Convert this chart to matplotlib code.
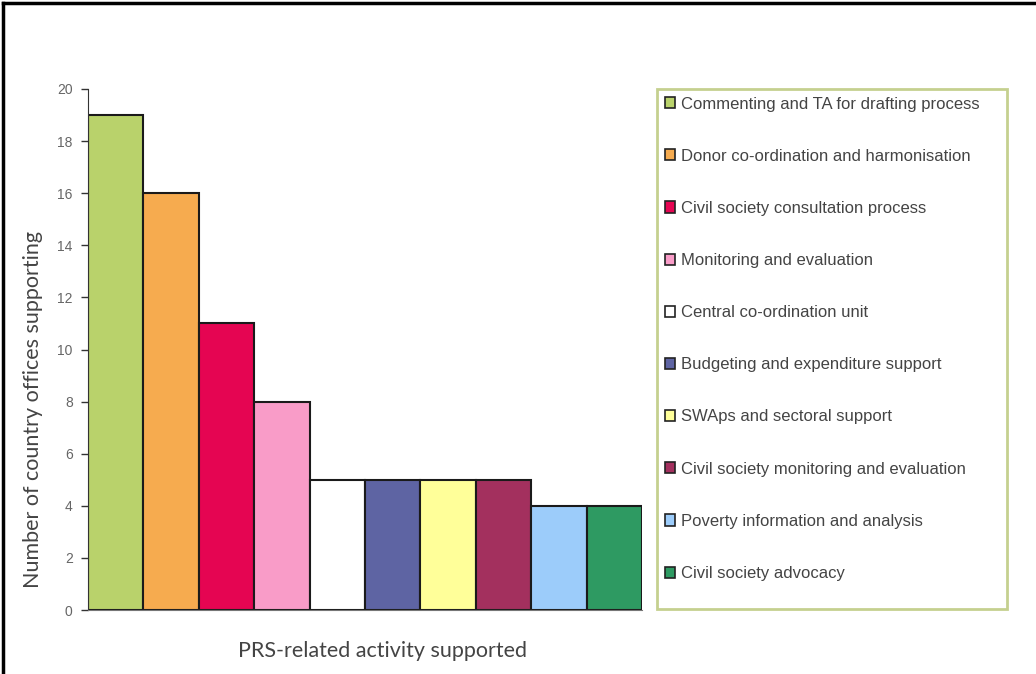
import matplotlib
matplotlib.use('Agg')
import matplotlib.pyplot as plt
from matplotlib.lines import Line2D
from matplotlib.patches import Rectangle

# activities and number of country offices supporting each
activities = ['Commenting and TA for drafting process',
              'Donor co-ordination and harmonisation',
              'Civil society consultation process',
              'Monitoring and evaluation',
              'Central co-ordination unit',
              'Budgeting and expenditure support',
              'SWAps and sectoral support',
              'Civil society monitoring and evaluation',
              'Poverty information and analysis',
              'Civil society advocacy']
offices = [19, 16, 11, 8, 5, 5, 5, 5, 4, 4]
colors = ['#b9d26b', '#f6ab4f', '#e50552', '#f99cc8', '#ffffff',
          '#5e64a3', '#ffff99', '#a3305e', '#9cccfa', '#2e9a62']
yticks = list(range(0, 21, 2))

W, H = 1036, 674
fig = plt.figure(figsize=(W/100, H/100), dpi=100)
ax = fig.add_axes([88/W, 1-610/H, (642-88)/W, (610-89)/H])

for i in range(len(offices)):
    ax.bar(i, offices[i], width=1.0, color=colors[i], edgecolor='#1a1a1a',
           linewidth=1.5, label=activities[i])

ax.set_xlim(-0.5, len(offices)-0.5)
ax.set_ylim(0, 20)
ax.set_yticks(yticks)
ax.set_xticks([])
ax.tick_params(axis='y', direction='out', length=5, width=1, color='#333333',
               labelsize=10, labelcolor='#666666', pad=6)
for lab in ax.get_yticklabels():
    lab.set_family('Liberation Sans')
for s in ['top', 'right']:
    ax.spines[s].set_visible(False)
ax.spines['left'].set_color('#333333')
ax.spines['bottom'].set_color('#777777')

# axis titles
fig.text(33/W, 1-410/H, 'Number of country offices supporting', family='Lato',
         fontsize=15.5, color='#444444', rotation=90, ha='center', va='center')
fig.text(383/W, 1-651/H, 'PRS-related activity supported', family='Lato',
         fontsize=15.5, color='#444444', ha='center', va='center')

# legend box
fig.add_artist(Rectangle((657/W, 1-609/H), (1007-657)/W, (609-89)/H,
                         transform=fig.transFigure, facecolor='none',
                         edgecolor='#c5d08f', linewidth=2))
leg = fig.legend(loc='upper left', bbox_to_anchor=(657/W, 1-89/H),
                 frameon=False, borderaxespad=0, borderpad=0.45,
                 labelspacing=2.23, handlelength=0.65, handleheight=0.65,
                 handletextpad=0.35,
                 prop={'family': 'Liberation Sans', 'size': 12})
for t in leg.get_texts():
    t.set_color('#444444')
for h in leg.legend_handles:
    h.set_linewidth(1.2)
    h.set_edgecolor('#222222')

# page border on the left and top
fig.add_artist(Line2D([3/W, 3/W], [0, 1-3/H], transform=fig.transFigure,
                      color='black', linewidth=2.5))
fig.add_artist(Line2D([3/W, 1], [1-3/H, 1-3/H], transform=fig.transFigure,
                      color='black', linewidth=2.5))

fig.savefig('out.png', dpi=100)
